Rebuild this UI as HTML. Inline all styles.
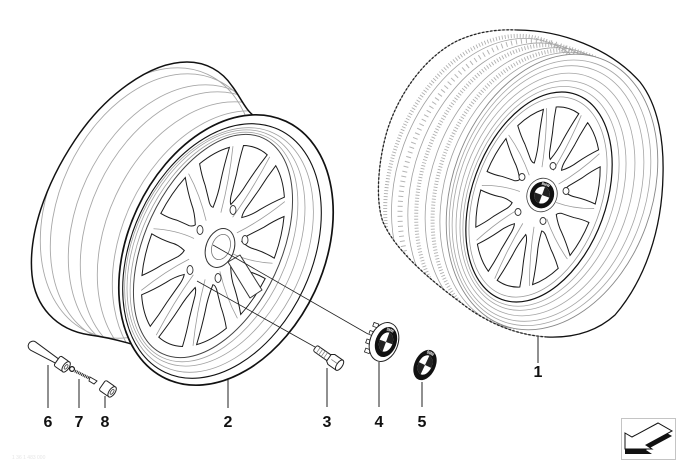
<!DOCTYPE html>
<html><head><meta charset="utf-8"><style>html,body{margin:0;padding:0;background:#fff}svg{display:block}</style></head>
<body>
<svg width="680" height="461" viewBox="0 0 680 461" xmlns="http://www.w3.org/2000/svg" xmlns:xlink="http://www.w3.org/1999/xlink" font-family="'Liberation Sans', sans-serif">
<defs>
  <path id="win" d="M36.7,9.8 Q45,19 54.8,24.4 Q67,32 79.5,42.3 A90,90 0 0 0 89.8,6.3 Q77,5.5 64.6,6.8 Q52,7 44.4,7 Q39,7.5 36.7,9.8 Z" fill="#fff" stroke="#1a1a1a" stroke-width="1" vector-effect="non-scaling-stroke"/>
  <path id="ridge" d="M30,-1 Q60,-1 90,-8" fill="none" stroke="#9a9a9a" stroke-width="0.8" vector-effect="non-scaling-stroke"/>
  <g id="spokes">
    <use href="#win"/><use href="#win" transform="rotate(36)"/><use href="#win" transform="rotate(72)"/><use href="#win" transform="rotate(108)"/><use href="#win" transform="rotate(144)"/>
    <use href="#win" transform="rotate(180)"/><use href="#win" transform="rotate(216)"/><use href="#win" transform="rotate(252)"/><use href="#win" transform="rotate(288)"/><use href="#win" transform="rotate(324)"/>
    <use href="#ridge"/><use href="#ridge" transform="rotate(36)"/><use href="#ridge" transform="rotate(72)"/><use href="#ridge" transform="rotate(108)"/><use href="#ridge" transform="rotate(144)"/>
    <use href="#ridge" transform="rotate(180)"/><use href="#ridge" transform="rotate(216)"/><use href="#ridge" transform="rotate(252)"/><use href="#ridge" transform="rotate(288)"/><use href="#ridge" transform="rotate(324)"/>
  </g>
  <g id="roundel">
    <circle r="10" fill="#111"/>
    <circle r="6.4" fill="#fff"/>
    <path d="M0,0 L6.4,0 A6.4,6.4 0 0 0 0,-6.4 Z" fill="#222"/>
    <path d="M0,0 L-6.4,0 A6.4,6.4 0 0 0 0,6.4 Z" fill="#222"/>
    <text x="0" y="-7.2" font-size="2.8" font-weight="bold" fill="#fff" text-anchor="middle">BMW</text>
  </g>
  <clipPath id="lclip"><path d="M256,117 C246,112 240,96 232,86 C222,71 206,62 187,62 C150,62 105,95 75,140 C45,185 28,235 32,275 C35,305 55,330 90,335 C105,337 122,341 138,346 L200,390 L300,320 L336,220 L300,125 Z"/></clipPath>
  <clipPath id="tclip"><path d="M517,30 C560,30 610,48 640,82 C658,105 664,140 663,175 C662,230 645,280 615,315 C595,333 570,338 547,337 C515,335 485,322 460,302 C430,280 395,250 383,222 C375,200 378,160 388,128 C400,92 425,58 455,42 C475,32 497,29 517,30 Z"/></clipPath>
</defs>

<!-- ============ LEFT WHEEL (2) ============ -->
<path d="M256,117 C246,112 240,96 232,86 C222,71 206,62 187,62 C150,62 105,95 75,140 C45,185 28,235 32,275 C35,305 55,330 90,335 C105,337 122,341 138,346 L200,390 L300,320 L336,220 L300,125 Z" fill="#fff"/>
<g clip-path="url(#lclip)" fill="none" stroke="#a8a8a8" stroke-width="0.9">
  <ellipse cx="147.5" cy="203" rx="98" ry="142" transform="rotate(25 147.5 203)"/>
  <ellipse cx="157.5" cy="209" rx="98" ry="142" transform="rotate(25 157.5 209)"/>
  <ellipse cx="175.5" cy="220" rx="98" ry="142" transform="rotate(25 175.5 220)"/>
  <ellipse cx="187.5" cy="227" rx="98" ry="142" transform="rotate(25 187.5 227)"/>
  <ellipse cx="204.5" cy="237" rx="98" ry="142" transform="rotate(25 204.5 237)"/>
  <ellipse cx="219.5" cy="246" rx="98" ry="142" transform="rotate(25 219.5 246)"/>
</g>
<path d="M256,117 C246,112 240,96 232,86 C222,71 206,62 187,62 C150,62 105,95 75,140 C45,185 28,235 32,275 C35,305 55,330 90,335 C105,337 122,341 138,346" fill="none" stroke="#111" stroke-width="1.5"/>

<ellipse cx="226" cy="250" rx="98" ry="142" transform="rotate(25 226 250)" fill="#fff" stroke="#111" stroke-width="1.7"/>
<ellipse cx="222" cy="251" rx="90" ry="134" transform="rotate(25 222 251)" fill="none" stroke="#111" stroke-width="1.1"/>
<g fill="none" stroke="#a0a0a0" stroke-width="0.8">
  <ellipse cx="219" cy="250" rx="85" ry="129" transform="rotate(25 219 250)"/>
  <ellipse cx="216" cy="248" rx="79" ry="125" transform="rotate(25 216 248)"/>
  <ellipse cx="214" cy="247" rx="73" ry="122" transform="rotate(25 214 247)"/>
</g>
<ellipse cx="213" cy="246" rx="68" ry="119" transform="rotate(25 213 246)" fill="#fff" stroke="#444" stroke-width="1"/>
<g transform="translate(213,246) rotate(25) scale(0.68,1.19)"><use href="#spokes"/></g>
<!-- hub -->
<ellipse cx="220" cy="248" rx="14" ry="20" transform="rotate(20 220 248)" fill="#fff" stroke="#333" stroke-width="1"/>
<ellipse cx="221" cy="247" rx="9" ry="13" transform="rotate(20 221 247)" fill="#fff" stroke="#777" stroke-width="0.8"/>
<g fill="#fff" stroke="#333" stroke-width="0.9">
  <ellipse cx="200" cy="230" rx="3" ry="4.5"/>
  <ellipse cx="233" cy="210" rx="3" ry="4.5"/>
  <ellipse cx="245" cy="240" rx="3" ry="4.5"/>
  <ellipse cx="218" cy="278" rx="3" ry="4.5"/>
  <ellipse cx="190" cy="270" rx="3" ry="4.5"/>
</g>
<path d="M228,262 L240,255 L262,290 L250,298 Z" fill="#fff" stroke="#333" stroke-width="1" stroke-linejoin="round"/>

<!-- leader lines from left wheel -->
<line x1="213" y1="245" x2="368" y2="334" stroke="#222" stroke-width="0.8"/>
<line x1="197" y1="281" x2="315" y2="347" stroke="#222" stroke-width="0.8"/>

<!-- ============ RIGHT WHEEL (1) ============ -->
<path d="M517,30 C560,30 610,48 640,82 C658,105 664,140 663,175 C662,230 645,280 615,315 C595,333 570,338 547,337 C515,335 485,322 460,302 C430,280 395,250 383,222 C375,200 378,160 388,128 C400,92 425,58 455,42 C475,32 497,29 517,30 Z" fill="#fff"/>
<g clip-path="url(#tclip)" fill="none">
  <ellipse cx="494" cy="178" rx="102.8" ry="146.6" transform="rotate(20 494 178)" stroke="#b0b0b0" stroke-width="4" stroke-dasharray="0.9 2.1"/>
  <ellipse cx="500" cy="180" rx="102.5" ry="146" transform="rotate(20 500 180)" stroke="#a0a0a0" stroke-width="0.8"/>
  <ellipse cx="508" cy="181.5" rx="102" ry="145.5" transform="rotate(20 508 181.5)" stroke="#b5b5b5" stroke-width="5" stroke-dasharray="1 4"/>
  <ellipse cx="515.5" cy="183.5" rx="101.7" ry="144.9" transform="rotate(20 515.5 183.5)" stroke="#a0a0a0" stroke-width="0.8"/>
  <ellipse cx="523.5" cy="185" rx="101.4" ry="144.3" transform="rotate(20 523.5 185)" stroke="#b0b0b0" stroke-width="4" stroke-dasharray="0.9 2.1"/>
  <ellipse cx="532" cy="187" rx="101" ry="143.6" transform="rotate(20 532 187)" stroke="#a0a0a0" stroke-width="0.8"/>
  <ellipse cx="539" cy="189" rx="100.6" ry="143" transform="rotate(20 539 189)" stroke="#b0b0b0" stroke-width="4" stroke-dasharray="0.9 2.1"/>
  <ellipse cx="546" cy="190.5" rx="100.3" ry="142.5" transform="rotate(20 546 190.5)" stroke="#a0a0a0" stroke-width="0.8"/>
</g>
<ellipse cx="552" cy="192" rx="100" ry="142" transform="rotate(20 552 192)" fill="#fff" stroke="#888" stroke-width="0.9"/>
<g fill="none" stroke="#a5a5a5" stroke-width="0.8">
  <ellipse cx="550" cy="192.8" rx="95" ry="137" transform="rotate(20 550 192.8)"/>
  <ellipse cx="548" cy="193.5" rx="90" ry="132" transform="rotate(20 548 193.5)"/>
  <ellipse cx="545.5" cy="194.5" rx="83.5" ry="125.5" transform="rotate(20 545.5 194.5)"/>
  <ellipse cx="543" cy="195.5" rx="77" ry="119" transform="rotate(20 543 195.5)"/>
  <ellipse cx="541" cy="196.3" rx="72" ry="114" transform="rotate(20 541 196.3)"/>
</g>
<ellipse cx="539" cy="197" rx="67" ry="109" transform="rotate(20 539 197)" fill="#fff" stroke="#111" stroke-width="1.2"/>
<ellipse cx="538" cy="197" rx="63" ry="104" transform="rotate(20 538 197)" fill="none" stroke="#999" stroke-width="0.8"/>
<g transform="translate(538,197) rotate(20) scale(0.63,1.04)"><use href="#spokes"/></g>
<g fill="#fff" stroke="#333" stroke-width="0.9">
  <ellipse cx="553" cy="166" rx="3" ry="3.5"/>
  <ellipse cx="566" cy="191" rx="3" ry="3.5"/>
  <ellipse cx="543" cy="221" rx="3" ry="3.5"/>
  <ellipse cx="518" cy="212" rx="3" ry="3.5"/>
  <ellipse cx="522" cy="177" rx="3" ry="3.5"/>
</g>
<ellipse cx="542" cy="195" rx="15" ry="17" transform="rotate(20 542 195)" fill="#fff" stroke="#444" stroke-width="0.8"/>
<use href="#roundel" transform="translate(542,195) rotate(20) scale(1.2,1.35)"/>
<!-- tire silhouette -->
<path d="M517,30 C560,30 610,48 640,82 C658,105 664,140 663,175 C662,230 645,280 615,315 C595,333 570,338 547,337" fill="none" stroke="#111" stroke-width="1.3"/>
<path d="M547,337 C515,335 485,322 460,302 C430,280 395,250 383,222 C375,200 378,160 388,128 C400,92 425,58 455,42 C475,32 497,29 517,30" fill="none" stroke="#777" stroke-width="0.7"/>
<path d="M547,337 C515,335 485,322 460,302 C430,280 395,250 383,222 C375,200 378,160 388,128 C400,92 425,58 455,42 C475,32 497,29 517,30" fill="none" stroke="#222" stroke-width="1.3" stroke-dasharray="2.5 1.6"/>

<!-- ============ SMALL PARTS ============ -->
<!-- 6 valve stem -->
<path d="M35.4,341.8 L58.4,358.8 L55.6,363.2 L30.6,350.2 A4.8,4.8 0 0 1 35.4,341.8 Z" fill="#fff" stroke="#222" stroke-width="1" stroke-linejoin="round"/>
<g transform="translate(62,364) rotate(35)">
  <rect x="-6" y="-6" width="11" height="12" rx="2" fill="#fff" stroke="#222" stroke-width="1"/>
  <ellipse cx="5" cy="0" rx="3" ry="6" fill="#fff" stroke="#222" stroke-width="1"/>
  <ellipse cx="5" cy="0" rx="1.3" ry="2.6" fill="none" stroke="#444" stroke-width="0.8"/>
</g>
<!-- 7 valve core -->
<circle cx="72" cy="369" r="2.4" fill="#fff" stroke="#111" stroke-width="1.2"/>
<line x1="75" y1="371" x2="91" y2="379" stroke="#222" stroke-width="3" stroke-dasharray="1 0.8"/>
<path d="M90,377 L97,381 L94,384 L89,381 Z" fill="#fff" stroke="#222" stroke-width="0.9"/>
<!-- 8 valve cap -->
<g transform="translate(108,389) rotate(35)">
  <rect x="-7" y="-6" width="12" height="12" rx="2" fill="#fff" stroke="#222" stroke-width="1"/>
  <ellipse cx="5" cy="0" rx="3" ry="6" fill="#fff" stroke="#222" stroke-width="1"/>
  <ellipse cx="5" cy="0" rx="1.3" ry="2.8" fill="none" stroke="#444" stroke-width="0.8"/>
</g>
<!-- 3 bolt -->
<g transform="translate(315,348) rotate(35)">
  <rect x="0" y="-3.5" width="18" height="7" rx="2" fill="#fff" stroke="#222" stroke-width="1"/>
  <path d="M4,-3.5 v7 M7,-3.5 v7 M10,-3.5 v7 M13,-3.5 v7" stroke="#777" stroke-width="0.7"/>
  <path d="M17,-4 L20,-6 L30,-6 L30,6 L20,6 L17,4 Z" fill="#fff" stroke="#222" stroke-width="1"/>
  <line x1="20" y1="0" x2="30" y2="0" stroke="#777" stroke-width="0.7"/>
  <ellipse cx="30" cy="0" rx="2.8" ry="6" fill="#fff" stroke="#222" stroke-width="1"/>
</g>
<!-- 4 hub cap -->
<g transform="translate(384,342) rotate(20)">
  <rect x="-16" y="-15" width="5" height="4" fill="#fff" stroke="#222" stroke-width="0.8"/>
  <rect x="-17" y="-6" width="5" height="4" fill="#fff" stroke="#222" stroke-width="0.8"/>
  <rect x="-17" y="3" width="5" height="4" fill="#fff" stroke="#222" stroke-width="0.8"/>
  <rect x="-15" y="12" width="5" height="4" fill="#fff" stroke="#222" stroke-width="0.8"/>
  <ellipse cx="0" cy="0" rx="14" ry="20" fill="#fff" stroke="#222" stroke-width="1"/>
</g>
<use href="#roundel" transform="translate(386,342) rotate(20) scale(1.05,1.55)"/>
<!-- 5 emblem -->
<use href="#roundel" transform="translate(425,365) rotate(25) scale(1.05,1.6)"/>

<!-- ============ LEADERS & LABELS ============ -->
<g stroke="#222" stroke-width="1">
  <line x1="48" y1="365" x2="48" y2="408"/>
  <line x1="79" y1="379" x2="79" y2="408"/>
  <line x1="105" y1="396" x2="105" y2="408"/>
  <line x1="228" y1="380" x2="228" y2="408"/>
  <line x1="327" y1="368" x2="327" y2="407"/>
  <line x1="379" y1="362" x2="379" y2="407"/>
  <line x1="422" y1="382" x2="422" y2="407"/>
  <line x1="538" y1="337" x2="538" y2="363"/>
</g>
<g font-size="16" font-weight="bold" fill="#111" text-anchor="middle">
  <text x="48" y="427">6</text>
  <text x="79" y="427">7</text>
  <text x="105" y="427">8</text>
  <text x="228" y="427">2</text>
  <text x="327" y="427">3</text>
  <text x="379" y="427">4</text>
  <text x="422" y="427">5</text>
  <text x="538" y="377">1</text>
</g>

<!-- arrow icon -->
<rect x="621.5" y="418.5" width="54" height="41" fill="#fff" stroke="#c4c4c4" stroke-width="1"/>
<path d="M625,438 L632,442 L658,428 L672,436 L646,450 L652,454 L625,454 Z" fill="#111"/>
<path d="M625,433 L632,437 L658,423 L672,431 L646,445 L652,449 L625,449 Z" fill="#fff" stroke="#111" stroke-width="1" stroke-linejoin="miter"/>

<text x="12" y="459" font-size="5" fill="#e6e6e6">1 36 1 483 000</text>
</svg>
</body></html>
